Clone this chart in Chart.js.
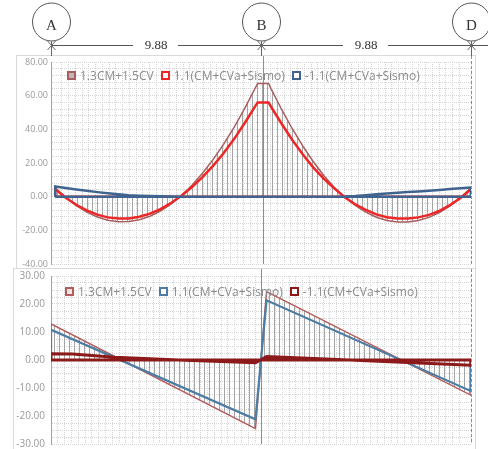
<!DOCTYPE html>
<html>
<head>
<meta charset="utf-8">
<title>Momento y cortante</title>
<script src="https://cdn.jsdelivr.net/npm/chart.js@4.4.1/dist/chart.umd.min.js"></script>
<style>
  html, body { margin: 0; padding: 0; background: #fff; }
  body { position: relative; width: 488px; height: 449px; overflow: hidden; }
  .panel { position: absolute; background: #fff; border: 1px solid #dadada; box-sizing: border-box; }
  #momentPanel { left: 16px; top: 55px; width: 460px; height: 214px; }
  #shearPanel { left: 13px; top: 268px; width: 463px; height: 182px; }
  .legend { position: absolute; white-space: nowrap; font: 12px "Open Sans", sans-serif; color: #8c8c8c; line-height: 14px; }
  .legend span { margin-right: 7px; }
  .legend i { display: inline-block; width: 5px; height: 5px; border: 2px solid; margin-right: 4px; vertical-align: 0px; }
  #momentLegend { left: 67px; top: 69px; }
  #shearLegend { left: 65px; top: 285px; }
  #head { position: absolute; left: 0; top: 0; pointer-events: none; }
</style>
</head>
<body>
<div class="panel" id="momentPanel"><canvas id="momentChart"></canvas></div>
<div class="panel" id="shearPanel"><canvas id="shearChart"></canvas></div>
<div class="legend" id="momentLegend"></div>
<div class="legend" id="shearLegend"></div>
<svg id="head" width="488" height="449"></svg>
<script>
// load combinations
const comboLabels = ["1.3CM+1.5CV", "1.1(CM+CVa+Sismo)", "-1.1(CM+CVa+Sismo)"];

// axes of the building
const gridNames = ["A", "B", "D"];
const gridX = [0, 9.88, 19.76];
const spanLabels = ["9.88", "9.88"];

// moment diagram (stations in m)
const momentX = [
  0, 0.5, 1, 1.5, 2, 2.5, 3, 3.5, 4, 4.5,
  5, 5.5, 6, 6.5, 7, 7.5, 8, 8.5, 9, 9.5,
  9.62, 10.14,
  10.26, 10.76, 11.26, 11.76, 12.26, 12.76, 13.26, 13.76, 14.26, 14.76,
  15.26, 15.76, 16.26, 16.76, 17.26, 17.76, 18.26, 18.76, 19.26, 19.76,
];
const momentCombo1 = [
  5.2, -0.4, -5.3, -9.2, -12.1, -14.0, -14.9, -14.8, -13.7, -11.6,
  -8.5, -4.4, 0.7, 6.8, 13.9, 22.0, 31.1, 41.2, 52.3, 64.4,
  67.2, 67.2,
  64.0, 51.8, 40.5, 30.2, 20.9, 12.6, 5.6, -0.3, -5.2, -9.2,
  -12.2, -14.1, -15.1, -15.1, -14.2, -12.3, -9.4, -5.5, -0.6, 5.3,
];
const momentCombo2 = [
  4.5, -0.6, -4.8, -8.2, -10.7, -12.3, -13.0, -12.9, -11.9, -10.1,
  -7.4, -3.8, 0.6, 5.7, 11.6, 18.3, 25.8, 34.2, 43.6, 53.6,
  56.0, 56.0,
  53.3, 43.3, 33.8, 25.2, 17.4, 10.7, 4.9, -0.3, -4.5, -7.9,
  -10.5, -12.2, -13.0, -13.0, -12.3, -10.8, -8.4, -5.0, -0.8, 4.5,
];
const momentCombo3 = [
  6.1, 5.2, 4.3, 3.5, 2.7, 2.0, 1.4, 0.9, 0.6, 0.4,
  0.2, 0.1, 0, 0, 0, 0, 0, 0, 0, 0,
  0, 0,
  0, 0, 0, 0, 0, 0, 0, 0.1, 0.4, 0.9,
  1.4, 1.9, 2.3, 2.7, 3.1, 3.5, 4.0, 4.5, 5.0, 5.5,
];
const momentTicks = [-40, -20, 0, 20, 40, 60, 80];

// shear diagram
const shearX = [0, 9.62, 10.14, 19.76];
const shearCombo1 = [12.9, -24.5, 24.4, -12.6];
const shearCombo2 = [10.8, -21.2, 21.3, -11.1];
const shearX3 = [0, 1.0, 3.0, 6.0, 9.62, 10.14, 13.5, 16.5, 19.76];
const shearCombo3 = [2.2, 2.1, 1.0, 0, -1.0, 1.2, 0.2, -0.8, -1.9];
const shearTicks = [-30, -20, -10, 0, 10, 20, 30];

// vertical hatch used under the first combination
const hatch = (function () {
  const c = document.createElement("canvas");
  c.width = 5;
  c.height = 4;
  const g = c.getContext("2d");
  g.fillStyle = "#a4a4a4";
  g.fillRect(0, 0, 1, 4);
  return g.createPattern(c, "repeat");
})();

// diagram outline: up from zero, along the values, down to zero (and back along zero if closed)
const shape = function (xs, ys, closed) {
  let pts = [{ x: xs[0], y: 0 }];
  xs.forEach((x, i) => pts.push({ x: x, y: ys[i] }));
  pts.push({ x: xs[xs.length - 1], y: 0 });
  if (closed) pts.push({ x: xs[0], y: 0 });
  return pts;
};

const lineSet = function (label, xs, ys, color, width, order, legendFill, fill) {
  return {
    label: label,
    data: shape(xs, ys, !fill),
    borderColor: color,
    borderWidth: width,
    backgroundColor: fill || "transparent",
    fill: fill ? "origin" : false,
    order: order,
    legendFill: legendFill,
    pointRadius: 0,
    tension: 0,
  };
};

// gray lines of the axes B and D through the diagrams
const axisLines = {
  id: "axisLines",
  beforeDatasetsDraw(chart) {
    const { ctx, chartArea, scales } = chart;
    ctx.save();
    ctx.strokeStyle = "#8e8e8e";
    ctx.lineWidth = 1;
    gridX.forEach((v, i) => {
      if (i == 0) return;
      const px = Math.round(scales.x.getPixelForValue(v)) + 0.5;
      ctx.setLineDash(i == gridX.length - 1 ? [3, 2] : []);
      ctx.beginPath();
      ctx.moveTo(px, 0);
      ctx.lineTo(px, chartArea.bottom);
      ctx.stroke();
    });
    ctx.restore();
  },
};

const chartOptions = function (xMin, yMin, yMax, yStep, labelTicks, fontSize, labelPad, axisWidth, padding) {
  return {
    responsive: true,
    maintainAspectRatio: false,
    animation: false,
    events: [],
    layout: { padding: padding },
    plugins: { legend: { display: false }, tooltip: { enabled: false } },
    scales: {
      x: {
        type: "linear",
        min: xMin,
        max: 19.76,
        ticks: { display: false, stepSize: 0.32, maxTicksLimit: 200 },
        grid: { color: "#d4d4d4", drawTicks: false },
        border: { display: false, dash: [1, 1] },
        afterFit: (s) => {
          s.height = 0;
          s.paddingLeft = 0;
          s.paddingRight = 0;
        },
      },
      y: {
        min: yMin,
        max: yMax,
        ticks: {
          stepSize: yStep,
          autoSkip: false,
          maxTicksLimit: 200,
          padding: labelPad,
          color: "#9a9a9a",
          font: { family: "Open Sans", size: fontSize },
          callback: (v) => (labelTicks.includes(v) ? v.toFixed(2) : ""),
        },
        grid: { color: "#d4d4d4", drawTicks: false },
        border: { color: "#a3a3a3", dash: [1, 1] },
        afterFit: (s) => {
          s.width = axisWidth;
          s.paddingTop = 0;
          s.paddingBottom = 0;
        },
      },
    },
  };
};

const buildLegend = function (chart, boxId) {
  const box = document.getElementById(boxId);
  box.innerHTML = "";
  chart.data.datasets.forEach((ds) => {
    const item = document.createElement("span");
    const sw = document.createElement("i");
    sw.style.borderColor = ds.borderColor;
    sw.style.background = ds.legendFill;
    item.appendChild(sw);
    item.appendChild(document.createTextNode(ds.label));
    box.appendChild(item);
  });
};

const momentChart = new Chart(document.getElementById("momentChart"), {
  type: "line",
  data: {
    datasets: [
      lineSet(comboLabels[0], momentX, momentCombo1, "#a85e5e", 1.5, 3, "#c4b4b4", hatch),
      lineSet(comboLabels[1], momentX, momentCombo2, "#ee2626", 2.5, 2, "#ffffff"),
      lineSet(comboLabels[2], momentX, momentCombo3, "#40648f", 2.5, 1, "#ffffff"),
    ],
  },
  options: chartOptions(-0.2, -40, 80, 4, momentTicks, 9, 3, 34, { left: 0, right: 4, top: 6, bottom: 4 }),
  plugins: [axisLines],
});

const shearChart = new Chart(document.getElementById("shearChart"), {
  type: "line",
  data: {
    datasets: [
      lineSet(comboLabels[0], shearX, shearCombo1, "#b45c5c", 1.5, 3, "#efe6e6", hatch),
      lineSet(comboLabels[1], shearX, shearCombo2, "#4d7ca4", 2.2, 2, "#ffffff"),
      lineSet(comboLabels[2], shearX3, shearCombo3, "#8c1a1a", 3, 1, "#ffffff"),
    ],
  },
  options: chartOptions(0, -30, 30, 2.5, shearTicks, 10, 6, 37, { left: 0, right: 4, top: 7, bottom: 5 }),
  plugins: [axisLines],
});

buildLegend(momentChart, "momentLegend");
buildLegend(shearChart, "shearLegend");

// axis bubbles and span dimensions above the diagrams
const drawHeader = function (chart) {
  const svg = document.getElementById("head");
  const ns = "http://www.w3.org/2000/svg";
  const left = chart.canvas.getBoundingClientRect().left;
  const px = gridX.map((v) => left + chart.scales.x.getPixelForValue(v));

  const add = function (tag, attrs, text) {
    const el = document.createElementNS(ns, tag);
    Object.keys(attrs).forEach((k) => el.setAttribute(k, attrs[k]));
    if (text) el.textContent = text;
    svg.appendChild(el);
  };

  const dimY = 45.5;
  let segStart = px[0];
  spanLabels.forEach((t, i) => {
    const mid = (px[i] + px[i + 1]) / 2;
    add("line", { x1: segStart, y1: dimY, x2: mid - 23, y2: dimY, stroke: "#555" });
    add("text", { x: mid, y: 49, "text-anchor": "middle", "font-family": "Liberation Serif", "font-size": 13, fill: "#333" }, t);
    segStart = mid + 22;
  });
  add("line", { x1: segStart, y1: dimY, x2: 488, y2: dimY, stroke: "#555" });

  gridNames.forEach((name, i) => {
    const x = Math.round(px[i]) + 0.5;
    add("line", { x1: x, y1: 41, x2: x, y2: 56, stroke: "#666" });
    add("line", { x1: x - 4, y1: 41, x2: x + 4, y2: 50, stroke: "#666" });
    add("line", { x1: x + 4, y1: 41, x2: x - 4, y2: 50, stroke: "#666" });
    add("circle", { cx: x, cy: 22, r: 19, fill: "#fff", stroke: "#555" });
    add("text", { x: x, y: 30, "text-anchor": "middle", "font-family": "Liberation Serif", "font-size": 15, fill: "#333" }, name);
  });
};

drawHeader(shearChart);
</script>
</body>
</html>
